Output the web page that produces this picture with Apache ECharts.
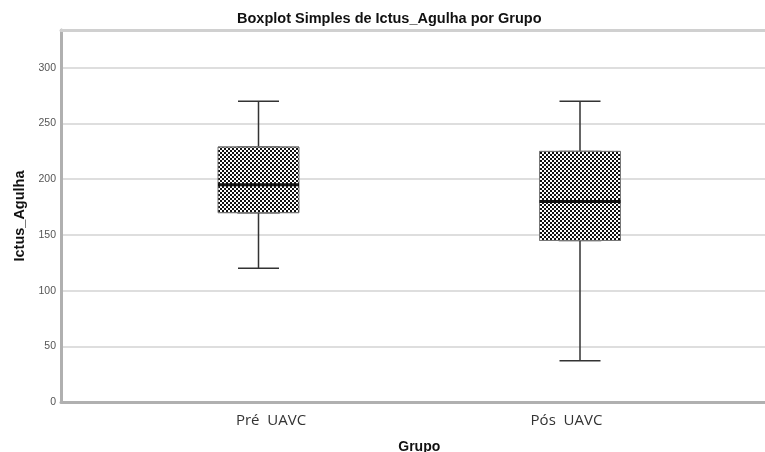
<!DOCTYPE html>
<html>
<head>
<meta charset="utf-8">
<script src="https://cdn.jsdelivr.net/npm/echarts@6/dist/echarts.min.js"></script>
<style>
  html, body { margin: 0; padding: 0; background: #fff; }
  #chart { width: 765px; height: 452px; }
</style>
</head>
<body>
<div id="chart"></div>
<script>
// Group labels and five-number summaries of Ictus_Agulha
const categories = ['Pré  UAVC', 'Pós  UAVC'];
const minValues = [120, 37];
const q1Values = [170, 145];
const medianValues = [195, 180];
const q3Values = [229, 225];
const maxValues = [270, 270];
const yTicks = [0, 50, 100, 150, 200, 250, 300];

// Checkerboard fill used for the boxes
function checkerPattern() {
  const c = document.createElement('canvas');
  c.width = 4; c.height = 4;
  const g = c.getContext('2d');
  g.fillStyle = '#ffffff';
  g.fillRect(0, 0, 4, 4);
  g.fillStyle = '#111111';
  g.fillRect(0, 0, 2, 2);
  g.fillRect(2, 2, 2, 2);
  return { image: c, repeat: 'repeat' };
}

const whiskerData = categories.map((_, i) => [minValues[i], q1Values[i], medianValues[i], q3Values[i], maxValues[i]]);
const boxData = categories.map((_, i) => [q1Values[i], q1Values[i], medianValues[i], q3Values[i], q3Values[i]]);
const medianData = categories.map((_, i) => Array(5).fill(medianValues[i]));

const Y_MIN = 0, Y_MAX = 334;
const labelShift = [25, -27];
const BOLD_FONT = 'Liberation Sans, Arial, sans-serif';

const chart = echarts.init(document.getElementById('chart'), null, { renderer: 'canvas' });
chart.setOption({
  animation: false,
  backgroundColor: '#ffffff',
  title: {
    text: 'Boxplot Simples de Ictus_Agulha por Grupo',
    left: 237,
    top: 11,
    padding: 0,
    textStyle: { fontFamily: BOLD_FONT, fontSize: 14.5, fontWeight: 'bold', color: '#111' }
  },
  grid: [
    { left: 61, right: 0, top: 30, bottom: 50, outerBoundsMode: 'none' },
    { left: 97.75, right: 24.25, top: 30, bottom: 50, outerBoundsMode: 'none' }
  ],
  xAxis: [
    {
      type: 'category', gridIndex: 0, data: categories,
      axisLine: { show: true, lineStyle: { color: '#b0b0b0', width: 3 } },
      axisTick: { show: false }, axisLabel: { show: false }, splitLine: { show: false }
    },
    {
      // upper frame line of the plot area
      type: 'category', gridIndex: 0, data: categories, position: 'top',
      axisLine: { show: true, onZero: false, lineStyle: { color: '#d0d0d0', width: 3 } },
      axisTick: { show: false }, axisLabel: { show: false }, splitLine: { show: false }
    },
    {
      type: 'category', gridIndex: 1,
      data: categories.map((c, i) => ({
        value: c,
        textStyle: { padding: labelShift[i] > 0 ? [0, 0, 0, labelShift[i]] : [0, -labelShift[i], 0, 0] }
      })),
      axisLine: { show: false }, axisTick: { show: false },
      axisLabel: { margin: 11, fontFamily: 'Open Sans, sans-serif', fontSize: 15, color: '#333' },
      name: 'Grupo', nameLocation: 'middle', nameGap: 38,
      nameTextStyle: { fontFamily: BOLD_FONT, fontSize: 14, fontWeight: 'bold', color: '#111' }
    },
    { type: 'category', gridIndex: 1, data: categories, show: false },
    { type: 'category', gridIndex: 1, data: categories, show: false }
  ],
  yAxis: [
    {
      type: 'value', gridIndex: 0, min: Y_MIN, max: Y_MAX, interval: 50,
      axisLine: { show: true, lineStyle: { color: '#b0b0b0', width: 3 } },
      axisTick: { show: false },
      axisLabel: {
        margin: 5, fontFamily: BOLD_FONT, fontSize: 10.5, color: '#555',
        showMaxLabel: false,
        formatter: v => (yTicks.includes(v) ? String(v) : '')
      },
      splitLine: { show: true, lineStyle: { color: '#dedede', width: 2 } },
      name: 'Ictus_Agulha', nameLocation: 'middle', nameGap: 28,
      nameTextStyle: { fontFamily: BOLD_FONT, fontSize: 14.5, fontWeight: 'bold', color: '#111' }
    },
    { type: 'value', gridIndex: 1, min: Y_MIN, max: Y_MAX, show: false, splitLine: { show: false } }
  ],
  series: [
    {
      // whiskers and their caps
      type: 'boxplot', xAxisIndex: 2, yAxisIndex: 1, z: 2,
      boxWidth: [41, 41], data: whiskerData,
      itemStyle: { color: '#ffffff', borderColor: '#333333', borderWidth: 1.5 },
      silent: true
    },
    {
      // interquartile boxes
      type: 'boxplot', xAxisIndex: 3, yAxisIndex: 1, z: 3,
      boxWidth: [81, 81], data: boxData,
      itemStyle: { color: checkerPattern(), borderColor: '#777777', borderWidth: 1 },
      silent: true
    },
    {
      // median lines
      type: 'boxplot', xAxisIndex: 4, yAxisIndex: 1, z: 4,
      boxWidth: [81, 81], data: medianData,
      itemStyle: { color: 'transparent', borderColor: '#111111', borderWidth: 3 },
      silent: true
    }
  ]
});
</script>
</body>
</html>
